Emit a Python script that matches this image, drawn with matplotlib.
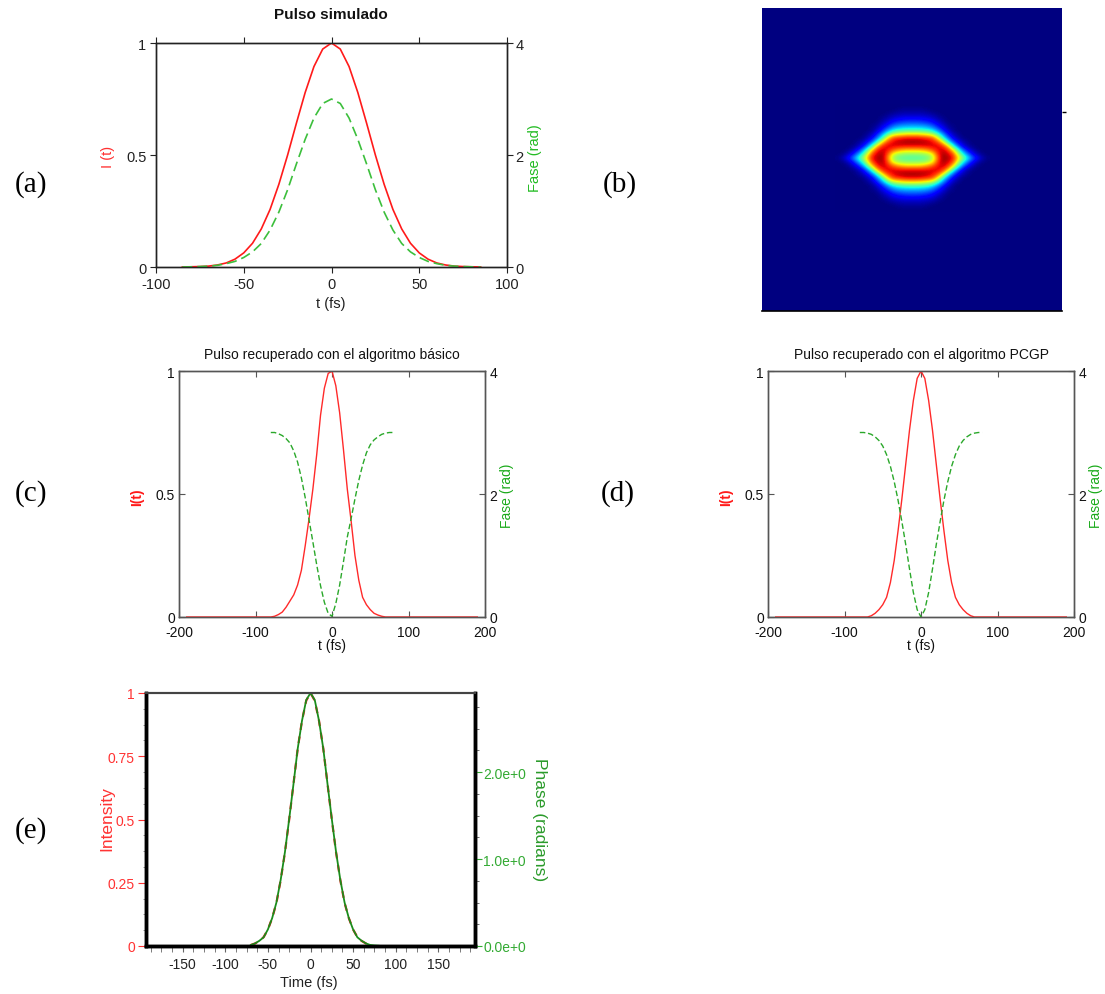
import numpy as np
import matplotlib
matplotlib.use("Agg")
import matplotlib.pyplot as plt
from matplotlib.ticker import MultipleLocator

plt.rcParams['font.family'] = ['Liberation Sans', 'DejaVu Sans']
plt.rcParams['axes.unicode_minus'] = False

# --- (a) simulated pulse: intensity and phase --------------------------------
t_a = [-85, -80, -75, -70, -65, -60, -55, -50, -45, -40, -35, -30, -25, -20, -15, -10, -5, 0,
       5, 10, 15, 20, 25, 30, 35, 40, 45, 50, 55, 60, 65, 70, 75, 80, 85]
int_a = [0, 0.001, 0.002, 0.004, 0.009, 0.018, 0.035, 0.063, 0.106, 0.17, 0.257, 0.369, 0.5,
         0.642, 0.779, 0.895, 0.973, 1.0, 0.973, 0.895, 0.779, 0.642, 0.5, 0.369, 0.257, 0.17,
         0.106, 0.063, 0.035, 0.018, 0.009, 0.004, 0.002, 0.001, 0]
phase_a = [0, 0.003, 0.008, 0.015, 0.03, 0.06, 0.1, 0.17, 0.27, 0.42, 0.66, 0.98, 1.38, 1.84,
           2.28, 2.66, 2.92, 3.0, 2.92, 2.66, 2.28, 1.84, 1.38, 0.98, 0.66, 0.42, 0.27, 0.17,
           0.1, 0.06, 0.03, 0.015, 0.008, 0.003, 0]

# --- (b) FROG trace, one quadrant (rows: dy = 0, 4, ..., 52; cols: dx = 0, 5, ..., 75) ---
trace_quadrant = [
    [0.45, 0.45, 0.46, 0.48, 0.56, 0.78, 0.98, 0.96, 0.90, 0.72, 0.52, 0.37, 0.23, 0.12, 0.05, 0.01],
    [0.52, 0.52, 0.53, 0.56, 0.64, 0.84, 0.96, 0.93, 0.85, 0.62, 0.40, 0.25, 0.12, 0.05, 0.01, 0.0],
    [0.70, 0.70, 0.72, 0.76, 0.82, 0.90, 0.93, 0.88, 0.70, 0.45, 0.25, 0.12, 0.05, 0.01, 0.0, 0.0],
    [0.90, 0.90, 0.90, 0.91, 0.92, 0.92, 0.87, 0.72, 0.44, 0.24, 0.10, 0.04, 0.01, 0.0, 0.0, 0.0],
    [0.97, 0.97, 0.96, 0.94, 0.90, 0.84, 0.68, 0.42, 0.24, 0.12, 0.05, 0.02, 0.0, 0.0, 0.0, 0.0],
    [0.90, 0.90, 0.88, 0.86, 0.82, 0.66, 0.42, 0.25, 0.12, 0.05, 0.01, 0.0, 0.0, 0.0, 0.0, 0.0],
    [0.66, 0.66, 0.64, 0.61, 0.56, 0.43, 0.28, 0.15, 0.06, 0.02, 0.0, 0.0, 0.0, 0.0, 0.0, 0.0],
    [0.42, 0.42, 0.41, 0.39, 0.34, 0.25, 0.15, 0.07, 0.02, 0.0, 0.0, 0.0, 0.0, 0.0, 0.0, 0.0],
    [0.29, 0.29, 0.28, 0.26, 0.22, 0.15, 0.09, 0.03, 0.01, 0.0, 0.0, 0.0, 0.0, 0.0, 0.0, 0.0],
    [0.19, 0.19, 0.18, 0.16, 0.13, 0.08, 0.04, 0.01, 0.0, 0.0, 0.0, 0.0, 0.0, 0.0, 0.0, 0.0],
    [0.11, 0.11, 0.10, 0.09, 0.07, 0.04, 0.02, 0.0, 0.0, 0.0, 0.0, 0.0, 0.0, 0.0, 0.0, 0.0],
    [0.05, 0.05, 0.05, 0.04, 0.03, 0.01, 0.0, 0.0, 0.0, 0.0, 0.0, 0.0, 0.0, 0.0, 0.0, 0.0],
    [0.02, 0.02, 0.02, 0.01, 0.0, 0.0, 0.0, 0.0, 0.0, 0.0, 0.0, 0.0, 0.0, 0.0, 0.0, 0.0],
    [0.0, 0.0, 0.0, 0.0, 0.0, 0.0, 0.0, 0.0, 0.0, 0.0, 0.0, 0.0, 0.0, 0.0, 0.0, 0.0],
]

# --- (c) basic algorithm retrieval ------------------------------------------
t_ret = [-80, -75, -70, -65, -60, -55, -50, -45, -40, -35, -30, -25, -20, -15, -10, -5, 0,
         5, 10, 15, 20, 25, 30, 35, 40, 45, 50, 55, 60, 65, 70, 75, 80]
t_window = [-190, 190]
int_c = [0, 0.003, 0.01, 0.02, 0.04, 0.065, 0.09, 0.13, 0.19, 0.29, 0.4, 0.52, 0.66, 0.82,
         0.93, 0.99, 1.0, 0.94, 0.83, 0.68, 0.52, 0.39, 0.25, 0.15, 0.08, 0.05, 0.03, 0.015,
         0.008, 0.003, 0, 0, 0]
phase_c = [3.0, 3.0, 2.98, 2.95, 2.9, 2.83, 2.7, 2.52, 2.26, 1.94, 1.58, 1.22, 0.85, 0.51,
           0.24, 0.06, 0.01, 0.22, 0.52, 0.9, 1.3, 1.6, 1.92, 2.22, 2.47, 2.67, 2.8, 2.88,
           2.93, 2.97, 2.99, 3.0, 3.0]

# --- (d) PCGP retrieval ------------------------------------------------------
int_d = [0, 0, 0, 0.005, 0.015, 0.03, 0.05, 0.08, 0.14, 0.23, 0.35, 0.48, 0.62, 0.76, 0.88,
         0.97, 1.0, 0.97, 0.88, 0.76, 0.62, 0.48, 0.35, 0.23, 0.14, 0.08, 0.05, 0.03, 0.015,
         0.005, 0, 0, 0]
phase_d = [3.0, 3.0, 2.99, 2.97, 2.93, 2.87, 2.78, 2.64, 2.45, 2.2, 1.9, 1.55, 1.18, 0.78,
           0.4, 0.12, 0.0, 0.12, 0.4, 0.78, 1.18, 1.55, 1.9, 2.2, 2.45, 2.64, 2.78, 2.87,
           2.93, 2.97, 2.99, 3.0, 3.0]

# --- (e) commercial software retrieval --------------------------------------
t_int_e = [-70, -65, -60, -55, -50, -45, -40, -35, -30, -25, -20, -15, -10, -5, 0,
           5, 10, 15, 20, 25, 30, 35, 40, 45, 50, 55, 60, 65, 70]
int_e = [0.004, 0.01, 0.02, 0.035, 0.065, 0.11, 0.17, 0.26, 0.37, 0.5, 0.64, 0.78, 0.89,
         0.97, 1.0, 0.97, 0.89, 0.78, 0.64, 0.5, 0.37, 0.26, 0.17, 0.11, 0.065, 0.035, 0.02,
         0.01, 0.004]
t_ph_e = t_int_e + [75, 80]
phase_e = [0.012, 0.03, 0.06, 0.1, 0.19, 0.32, 0.5, 0.76, 1.08, 1.46, 1.86, 2.27, 2.59, 2.83,
           2.91, 2.83, 2.59, 2.27, 1.86, 1.46, 1.08, 0.76, 0.5, 0.32, 0.19, 0.1, 0.06, 0.03,
           0.012, 0.006, 0.003]
e_left_ticks = [0, 0.25, 0.5, 0.75, 1]
e_left_labels = ['0', '0.25', '0.5', '0.75', '1']
e_right_ticks = [0, 1, 2]
e_right_labels = ['0.0e+0', '1.0e+0', '2.0e+0']

W, H = 1105, 995
fig = plt.figure(figsize=(W / 100, H / 100), dpi=100)


def place(left, top, right, bottom):
    return fig.add_axes([left / W, 1 - bottom / H, (right - left) / W, (bottom - top) / H])


def label(x, y, s, **kw):
    fig.text(x / W, 1 - y / H, s, ha='center', va='center', **kw)


# (a) ---------------------------------------------------------------------------
ax = place(156, 44, 507, 268)
ax.plot(t_a, int_a, color='#ff1a1a', lw=1.2, zorder=3)
ax.set_xlim(-100, 100)
ax.set_ylim(0, 1)
ax.set_xticks([-100, -50, 0, 50, 100])
ax.set_xticklabels(['-100', '-50', '0', '50', '100'])
ax.set_yticks([0, 0.5, 1])
ax.set_yticklabels(['0', '0.5', '1'])
ax.tick_params(direction='out', length=4, top=True, labelsize=10.5, colors='#222', pad=3)
ax2 = ax.twinx()
ax2.plot(t_a, phase_a, color='#3cbf3c', lw=1.2, dashes=(6, 3))
ax2.set_ylim(0, 4)
ax2.set_yticks([0, 2, 4])
ax2.set_yticklabels(['0', '2', '4'])
ax2.tick_params(direction='out', length=4, labelsize=10.5, colors='#222', pad=2)
for a in (ax, ax2):
    for s in a.spines.values():
        s.set_linewidth(1.0)
        s.set_color('#222')
label(331, 15, 'Pulso simulado', fontsize=11, fontweight='bold', color='#111')
label(331, 304, 't (fs)', fontsize=10.5, color='#222')
label(108, 157, 'I (t)', fontsize=10.5, color='#ff3030', rotation=90)
label(535, 158, 'Fase (rad)', fontsize=10.5, color='#22bb22', rotation=90)

# (b) ---------------------------------------------------------------------------
axb = place(762, 9, 1062, 312)
jet = plt.get_cmap('jet')
q = np.array(trace_quadrant)
half = np.vstack([q[::-1], q[1:]])
trace = np.hstack([half[:, ::-1], half[:, 1:]])
axb.set_facecolor(jet(0.0))
cx, cy, dx, dy = 150, 150, 5, 4
nr, nc = trace.shape
axb.imshow(trace, cmap='jet', vmin=0, vmax=1, interpolation='bicubic', origin='upper',
           extent=[cx - nc * dx / 2, cx + nc * dx / 2, cy + nr * dy / 2, cy - nr * dy / 2])
axb.set_xlim(0, 300)
axb.set_ylim(303, 0)
axb.set_aspect('auto')
for side in ('top', 'left', 'right'):
    axb.spines[side].set_visible(False)
axb.spines['bottom'].set_color('black')
axb.spines['bottom'].set_linewidth(1.2)
axb.set_xticks([])
axb.yaxis.tick_right()
axb.set_yticks([104])
axb.set_yticklabels([])
axb.tick_params(axis='y', direction='out', length=3, width=1, color='black')


# (c), (d) ---------------------------------------------------------------------
def recovered(box, inten, phase, title, cx):
    l, t, r, b = box
    a = place(l, t, r, b)
    a.plot(t_window[:1] + t_ret + t_window[1:], [0] + inten + [0], color='#ff2a2a', lw=1.0,
           zorder=3)
    a.set_xlim(-200, 200)
    a.set_ylim(0, 1)
    a.set_xticks([-200, -100, 0, 100, 200])
    a.set_xticklabels(['-200', '-100', '0', '100', '200'])
    a.set_yticks([0, 0.5, 1])
    a.set_yticklabels(['0', '0.5', '1'])
    a.tick_params(direction='in', length=4, top=True, labelsize=10, colors='#111',
                  color='#555', pad=3)
    a.tick_params(axis='x', pad=6)
    a2 = a.twinx()
    a2.plot(t_ret, phase, color='#2aa82a', lw=1.0, dashes=(4, 2))
    a2.set_ylim(0, 4)
    a2.set_yticks([0, 2, 4])
    a2.set_yticklabels(['0', '2', '4'])
    a2.tick_params(direction='in', length=4, labelsize=10, colors='#111', color='#555', pad=3)
    for x in (a, a2):
        for s in x.spines.values():
            s.set_color('#555')
            s.set_linewidth(1.0)
    label(cx, 355, title, fontsize=10, color='#111')
    label(cx, 646, 't (fs)', fontsize=10, color='#111')
    label(l - 42, 497, 'I(t)', fontsize=10, color='#ff1a1a', fontweight='bold', rotation=90)
    label(r + 22, 496, 'Fase (rad)', fontsize=10, color='#1aaa1a', rotation=90)


recovered((179, 372, 485, 618), int_c, phase_c, 'Pulso recuperado con el algoritmo básico', 332)
recovered((768, 372, 1074, 618), int_d, phase_d, 'Pulso recuperado con el algoritmo PCGP', 921)

# (e) ---------------------------------------------------------------------------
axe = place(146, 694, 475, 947)
axe.plot(t_int_e, int_e, color='#ee1c1c', lw=1.6, dashes=(3, 3))
axe.set_xlim(-193, 193)
axe.set_ylim(0, 1)
axe.set_xticks([-150, -100, -50, 0, 50, 100, 150])
axe.set_xticklabels(['-150', '-100', '-50', '0', '50', '100', '150'])
axe.xaxis.set_minor_locator(MultipleLocator(12.5))
axe.set_yticks(e_left_ticks)
axe.set_yticklabels(e_left_labels)
axe.yaxis.set_minor_locator(MultipleLocator(0.0625))
axe.tick_params(axis='x', which='both', direction='out', length=4, color='#666',
                labelsize=10, labelcolor='#222', pad=4)
axe.tick_params(axis='y', which='major', direction='out', length=6, color='#ff3333',
                labelsize=10, labelcolor='#ff3333', pad=2)
axe.tick_params(axis='y', which='minor', direction='out', length=2, color='#888')
axe2 = axe.twinx()
axe2.plot(t_ph_e, phase_e, color='#1c8c1c', lw=1.3)
axe2.set_ylim(0, 2.91)
axe2.set_yticks(e_right_ticks)
axe2.set_yticklabels(e_right_labels)
axe2.yaxis.set_minor_locator(MultipleLocator(0.25))
axe2.tick_params(axis='y', which='major', direction='out', length=5, color='#33aa33',
                 labelsize=10, labelcolor='#33aa33', pad=1)
axe2.tick_params(axis='y', which='minor', direction='out', length=3, color='#555')
for x in (axe, axe2):
    x.spines['left'].set_linewidth(2.5)
    x.spines['right'].set_linewidth(2.5)
    x.spines['bottom'].set_linewidth(2.5)
    x.spines['top'].set_linewidth(1.5)
    x.spines['top'].set_color('#444')
label(107, 819, 'Intensity', fontsize=12.5, color='#ff3333', rotation=90)
label(540, 820, 'Phase (radians)', fontsize=12.5, color='#2a9a2a', rotation=270)
label(309, 983, 'Time (fs)', fontsize=10.5, color='#222')

# panel letters
for s, x, y in [('(a)', 31, 185), ('(b)', 620, 185), ('(c)', 31, 494),
                ('(d)', 618, 494), ('(e)', 31, 831)]:
    label(x, y, s, fontsize=21, family='Liberation Serif', color='black')

fig.savefig('out.png', dpi=100)
